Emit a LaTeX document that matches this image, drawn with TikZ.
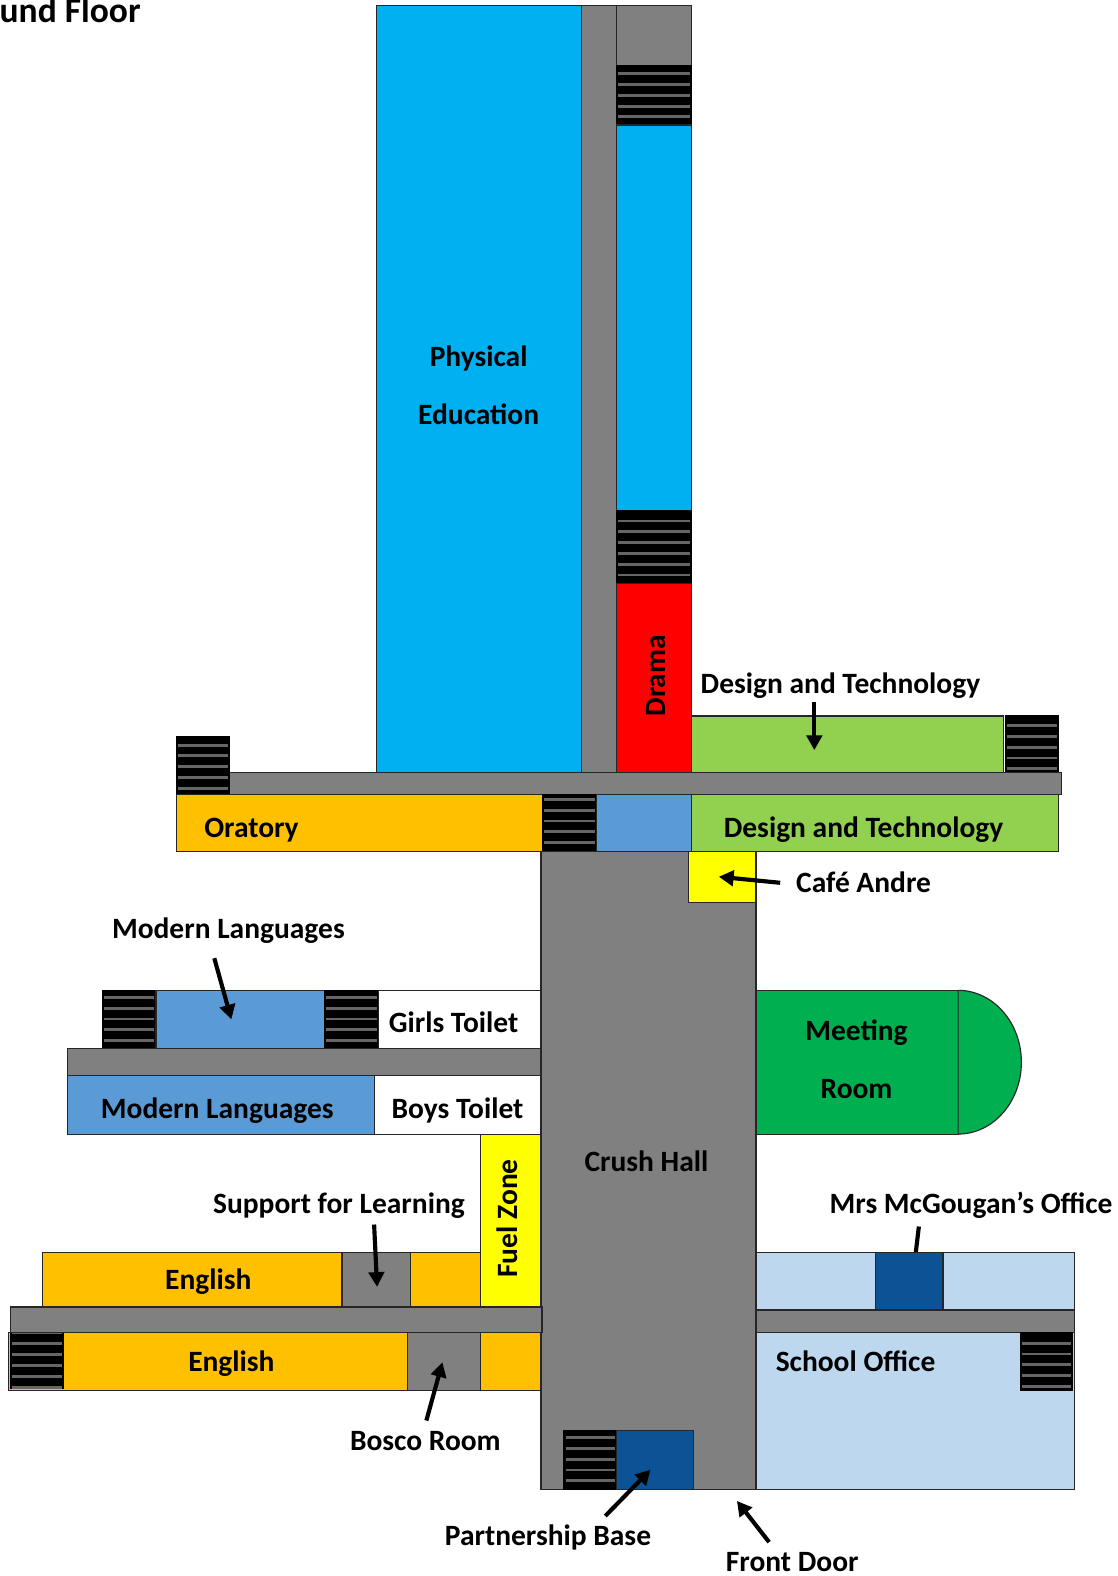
\documentclass[tikz,border=0pt]{standalone}
\usepackage{fontspec}
\setmainfont{Carlito}[BoldFont={Carlito Bold}]
\usetikzlibrary{fit,arrows.meta}
\definecolor{pe}{HTML}{00B0F0}
\definecolor{corr}{HTML}{808080}
\definecolor{gr}{HTML}{92D050}
\definecolor{og}{HTML}{FFC000}
\definecolor{lb}{HTML}{5B9BD5}
\definecolor{pb}{HTML}{BDD7EE}
\definecolor{db}{HTML}{0B5394}
\definecolor{mg}{HTML}{00B050}
\definecolor{yel}{HTML}{FFFF00}
\definecolor{rd}{HTML}{FF0000}
\definecolor{trd}{HTML}{666666}
\tikzset{
  roombox/.style={draw=black!85,line width=0.85pt,inner sep=0pt,outer sep=0pt,rectangle},
  lab/.style={font=\fontsize{22}{26}\selectfont\bfseries,inner sep=0pt,text height=16pt,text depth=1pt,text=black},
  pointer/.style={line width=3.1pt,draw=black,-{Triangle[length=11pt,width=11.5pt]},shorten >=0pt},
  tread/.style={draw=trd,line width=2.1pt},
}
\newcommand{\room}[6]{\node[roombox,fill=#6,fit={(#2,#3)(#4,#5)}] (#1) {};}
\newcommand{\stair}[6]{%
  \node[roombox,draw=black,fill=black,fit={(#2,#3)(#4,#5)}] (#1) {};
  \foreach \k in {0,...,7}{%
    \pgfmathsetmacro{\yy}{#3+#6+10.75*\k}
    \pgfmathtruncatemacro{\ok}{\yy<#5?1:0}
    \ifnum\ok=1 \draw[tread] (#2+1.5,\yy) -- (#4-1.5,\yy);\fi
  }}
\begin{document}
\begin{tikzpicture}[x=0.75pt,y=-0.75pt]
\useasboundingbox (-0.2,-0.3) rectangle (1111.8,1567.7);
\fill[white] (-0.2,-0.3) rectangle (1111.8,1567.7);
% arrow hidden behind dark office goes first
\coordinate (mcS) at (914,1220);
\coordinate (mcE) at (909,1262);
\draw[line width=3.1pt] (mcS) -- (mcE);
% north wing
\room{pered}{374}{5}{578}{768}{pe}
\room{corrN}{578}{5}{613}{768}{corr}
\room{topg}{613}{5}{688}{65}{corr}
\stair{st1}{613}{65}{688}{124}{8}
\room{blueN}{613}{124}{688}{508}{pe}
\stair{st2}{613}{508}{688}{580}{10}
\room{drama}{613}{580}{688}{768}{rd}
\room{dtA}{688}{712}{998}{768}{gr}
\stair{st3}{1000}{712}{1053}{768}{9.5}
\room{corrE}{228}{768}{1056}{790}{corr}
\stair{st4}{175}{733}{228}{790}{8}
\room{orat}{175}{790}{540}{847}{og}
\stair{st5}{540}{790}{593}{847}{5}
\room{lblue}{593}{790}{688}{847}{lb}
\room{dtB}{688}{790}{1053}{847}{gr}
% crush hall
\room{crush}{538}{847}{752}{1482}{corr}
\room{cafe}{685}{847}{752}{898}{yel}
% west wing 1
\stair{st6}{102}{985}{155}{1043}{7}
\room{mlA}{155}{985}{323}{1043}{lb}
\stair{st7}{323}{985}{376}{1043}{7}
\room{girls}{376}{985}{538}{1043}{white}
\room{corrW}{67}{1043}{538}{1070}{corr}
\room{mlB}{67}{1070}{372}{1128}{lb}
\room{boys}{372}{1070}{538}{1128}{white}
\room{fuel}{478}{1128}{538}{1300}{yel}
% west wing 2
\room{engA}{42}{1246}{340}{1300}{og}
\room{sfl}{340}{1246}{408}{1300}{corr}
\room{engB}{408}{1246}{478}{1300}{og}
\room{engC}{8}{1325}{405}{1383}{og}
\stair{st8}{10}{1325}{63}{1381}{1}
\room{bosco}{405}{1325}{478}{1383}{corr}
\room{engD}{478}{1325}{538}{1383}{og}
\room{corrS}{10}{1300}{539}{1325}{corr}
% meeting room
\room{meet}{752}{985}{953}{1128}{mg}
\draw[draw=black!85,fill=mg,line width=0.85pt] (953,985) arc[start angle=-90,end angle=90,x radius=63,y radius=71.5] -- cycle;
% east wing
\room{offA}{752}{1246}{1069}{1303}{pb}
\room{mcg}{871}{1246}{938}{1303}{db}
\room{corrO}{752}{1303}{1069}{1325}{corr}
\room{off}{752}{1325}{1069}{1482}{pb}
\stair{st9}{1015}{1325}{1067}{1383}{11}
% partnership
\stair{st10}{561}{1423}{613}{1482}{7}
\room{part}{613}{1423}{690}{1482}{db}
% labels
\node[font=\fontsize{26.5}{30}\selectfont\bfseries,anchor=base east,inner sep=0pt] (title) at (140,22) {und Floor};
\node[lab] (l1) at (476,354) {Physical};
\node[lab] (l2) at (476,412) {Education};
\node[lab,rotate=90] (l3) at (652,672) {Drama};
\node[lab] (l4) at (836,680) {Design and Technology};
\node[lab] (l5) at (250,823) {Oratory};
\node[lab] (l6) at (859,823) {Design and Technology};
\node[lab] (l7) at (859,878) {Café Andre};
\node[lab] (l8) at (227,923) {Modern Languages};
\node[lab] (l9) at (451,1017) {Girls Toilet};
\node[lab] (l10) at (216,1103) {Modern Languages};
\node[lab] (l11) at (455,1103) {Boys Toilet};
\node[lab,rotate=90] (l12) at (505,1212) {Fuel Zone};
\node[lab] (l13) at (643,1155) {Crush Hall};
\node[lab] (l14) at (852,1025) {Meeting};
\node[lab] (l15) at (852,1083) {Room};
\node[lab] (l16) at (337,1197) {Support for Learning};
\node[lab] (l17) at (207,1273) {English};
\node[lab] (l18) at (230,1354) {English};
\node[lab] (l19) at (966,1197) {Mrs McGougan’s Office};
\node[lab] (l20) at (851,1354) {School Office};
\node[lab] (l21) at (423,1433) {Bosco Room};
\node[lab] (l22) at (545,1527) {Partnership Base};
\node[lab] (l23) at (788,1553) {Front Door};
% pointers
\coordinate (a1) at (810,698); \coordinate (a1e) at (810,746);
\coordinate (a2) at (776,878); \coordinate (a2e) at (715,872);
\coordinate (a3) at (213,953); \coordinate (a3e) at (230,1014);
\coordinate (a4) at (372,1218); \coordinate (a4e) at (375,1280);
\coordinate (a5) at (424,1413); \coordinate (a5e) at (440,1355);
\coordinate (a6) at (602,1508); \coordinate (a6e) at (647,1462);
\coordinate (a7) at (765,1534); \coordinate (a7e) at (733,1493);
\draw[pointer] (a1) -- (a1e);
\draw[pointer] (a2) -- (a2e);
\draw[pointer] (a3) -- (a3e);
\draw[pointer] (a4) -- (a4e);
\draw[pointer] (a5) -- (a5e);
\draw[pointer] (a6) -- (a6e);
\draw[pointer] (a7) -- (a7e);
\end{tikzpicture}
\end{document}
